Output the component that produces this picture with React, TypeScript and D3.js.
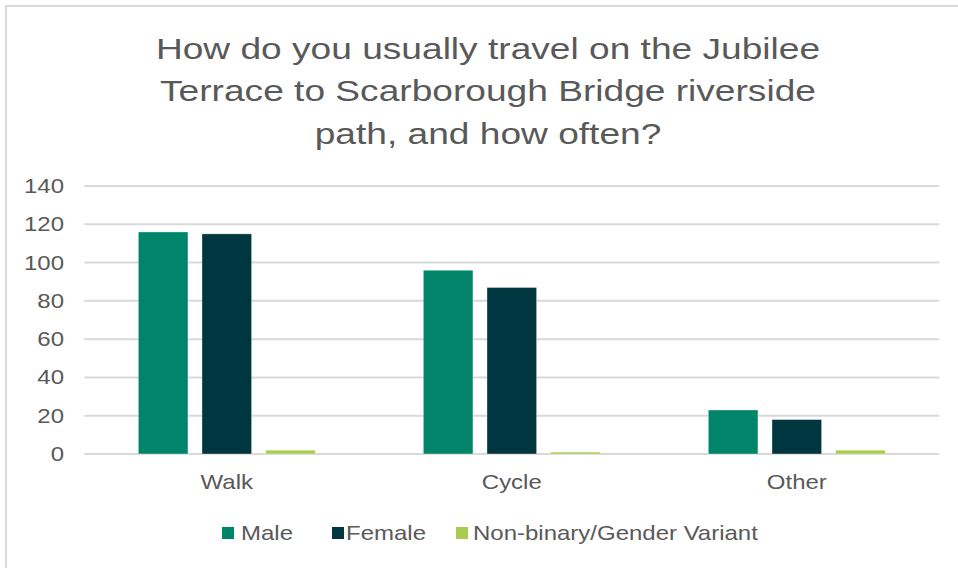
import React from "react";
import * as d3 from "d3";

const categories = ["Walk", "Cycle", "Other"];
const seriesNames = ["Male", "Female", "Non-binary/Gender Variant"];
const maleValues = [116, 96, 23];
const femaleValues = [115, 87, 18];
const nonBinaryValues = [2, 1, 2];
const yTicks = [0, 20, 40, 60, 80, 100, 120, 140];
const titleLines = [
  "How do you usually travel on the Jubilee",
  "Terrace to Scarborough Bridge riverside",
  "path, and how often?",
];
const colors = ["#00856a", "#003640", "#a9cc4e"];

const W = 958;
const H = 568;
const FONT = "'Liberation Sans', Arial, sans-serif";
const TEXT = "#595959";

function SText({ x, y, sx, anchor, size, children, dy }: any) {
  return (
    <text
      transform={`translate(${x},${y}) scale(${sx},1)`}
      textAnchor={anchor}
      fontSize={size}
      fill={TEXT}
      dy={dy}
    >
      {children}
    </text>
  );
}

export default function App() {
  const seriesValues = [maleValues, femaleValues, nonBinaryValues];
  const x0 = d3.scaleBand().domain(categories).range([84.3, 939.3]).padding(0);
  const groupW = 177;
  const x1 = d3.scaleBand().domain(seriesNames).range([0, groupW]).paddingInner(0.22);
  const y = d3.scaleLinear().domain([0, 140]).range([454, 186]);
  const groupOffset = (x0.bandwidth() - groupW) / 2;

  const legendItems = [
    { name: seriesNames[0], sx: 222, tx: 241 },
    { name: seriesNames[1], sx: 332, tx: 346 },
    { name: seriesNames[2], sx: 456, tx: 473 },
  ];

  return (
    <svg
      width={W}
      height={H}
      style={{ position: "absolute", left: 0, top: 0, background: "#fff" }}
      fontFamily={FONT}
    >
      <rect x={0} y={0} width={W} height={H} fill="#fff" />
      <rect x={6} y={6} width={W + 20} height={H + 20} fill="#fff" stroke="#d9d9d9" strokeWidth={2} />
      {titleLines.map((t, i) => (
        <SText key={i} x={488} y={58.5 + i * 42.5} sx={1.28} anchor="middle" size={29}>
          {t}
        </SText>
      ))}
      {yTicks.map((v) => (
        <g key={v}>
          <line x1={84.3} x2={939.3} y1={y(v)} y2={y(v)} stroke="#d9d9d9" strokeWidth={2} />
          <SText x={64} y={y(v)} dy="0.35em" sx={1.2} anchor="end" size={20}>
            {v}
          </SText>
        </g>
      ))}
      {categories.map((c, ci) => (
        <g key={c}>
          {seriesNames.map((s, si) => {
            const v = seriesValues[si][ci];
            const bx = (x0(c) as number) + groupOffset + (x1(s) as number);
            return (
              <rect
                key={s}
                x={bx}
                y={y(v)}
                width={x1.bandwidth()}
                height={y(0) - y(v)}
                fill={colors[si]}
                stroke="#ffffff"
                strokeOpacity={0.5}
                strokeWidth={0.75}
              />
            );
          })}
          <SText
            x={(x0(c) as number) + x0.bandwidth() / 2}
            y={489}
            sx={1.2}
            anchor="middle"
            size={20}
          >
            {c}
          </SText>
        </g>
      ))}
      {legendItems.map((it, i) => (
        <g key={it.name}>
          <rect x={it.sx} y={527} width={12} height={12} fill={colors[i]} />
          <SText x={it.tx} y={540} sx={1.2} anchor="start" size={20}>
            {it.name}
          </SText>
        </g>
      ))}
    </svg>
  );
}
